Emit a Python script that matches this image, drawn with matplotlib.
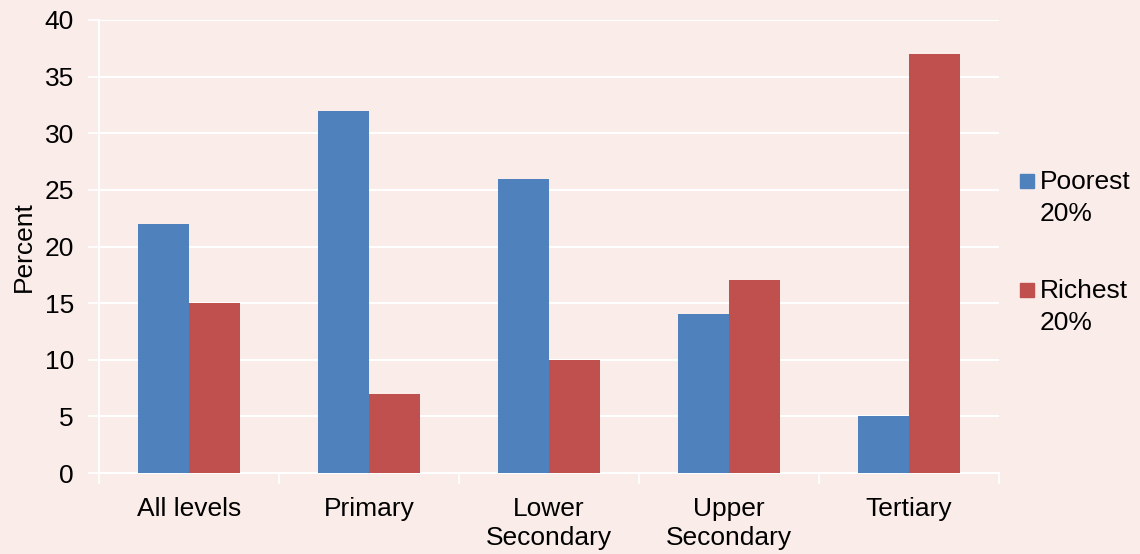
import numpy as np
import matplotlib.pyplot as plt
from matplotlib.patches import Rectangle

plt.rcParams['font.family'] = ['Liberation Sans', 'DejaVu Sans']

levels = ["All levels", "Primary", "Lower\nSecondary", "Upper\nSecondary", "Tertiary"]
poorest = [22, 32, 26, 14, 5]
richest = [15, 7, 10, 17, 37]
series_names = ["Poorest", "Richest"]

bg = "#FAECE9"
blue = "#4F81BD"
red = "#C0504D"

W, H = 1140, 554
fig = plt.figure(figsize=(W / 100, H / 100), dpi=100, facecolor=bg)
ax = fig.add_axes([0.0868, 0.1462, 0.7895, 0.8177], facecolor=bg)

x = np.arange(len(levels))
w = 0.285
ax.bar(x - w / 2, poorest, w, color=blue, zorder=3)
ax.bar(x + w / 2, richest, w, color=red, zorder=3)

ax.set_xlim(-0.5, len(levels) - 0.5)
ax.set_ylim(0, 40)
ax.set_yticks(range(0, 41, 5))
ax.set_xticks(x)
ax.set_xticklabels(levels, fontsize=19, linespacing=1.3)
ax.set_xticks(np.arange(len(levels) + 1) - 0.5, minor=True)
ax.tick_params(axis='x', which='major', length=0, pad=17)
ax.tick_params(axis='x', which='minor', length=8, width=1.2, color="white")
ax.tick_params(axis='y', length=8, width=1.2, color="white", labelsize=19, pad=10)
ax.grid(axis='y', color="white", linewidth=1.5, zorder=0)

for side in ["top", "right"]:
    ax.spines[side].set_visible(False)
for side in ["left", "bottom"]:
    ax.spines[side].set_color("white")
    ax.spines[side].set_linewidth(1.5)

ax.set_ylabel("Percent", fontsize=19, labelpad=6)

# legend: square key beside a two-line label, key level with the first line
for name, color, base in zip(series_names, [blue, red], [189, 298]):
    fig.patches.append(Rectangle((1020 / W, 1 - (base - 1) / H), 14 / W, 14 / H,
                                 transform=fig.transFigure, color=color))
    fig.text(1040 / W, 1 - base / H, name, fontsize=19, va="baseline")
    fig.text(1040 / W, 1 - (base + 32) / H, "20%", fontsize=19, va="baseline")

fig.savefig("out.png", dpi=100, facecolor=bg)
